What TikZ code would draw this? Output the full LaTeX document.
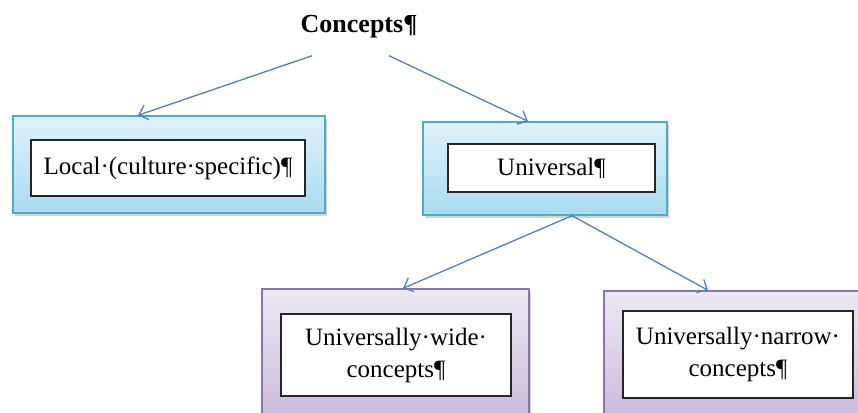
\documentclass[tikz,border=0pt]{standalone}
\usepackage{fontspec}
\setmainfont{Liberation Serif}
\usetikzlibrary{arrows.meta,shadows,calc}
\definecolor{arrowblue}{RGB}{79,129,189}
\definecolor{bluetop}{RGB}{224,242,251}
\definecolor{bluebot}{RGB}{168,219,240}
\definecolor{blueedge}{RGB}{75,172,198}
\definecolor{purptop}{RGB}{238,233,244}
\definecolor{purpbot}{RGB}{200,184,218}
\definecolor{purpedge}{RGB}{140,115,175}
\tikzset{
  outerblue/.style={draw=blueedge, line width=1.4pt, top color=bluetop, bottom color=bluebot,
    drop shadow={shadow xshift=2pt, shadow yshift=-3pt, opacity=0.35}, inner sep=0pt},
  outerpurple/.style={draw=purpedge, line width=1.4pt, top color=purptop, bottom color=purpbot,
    drop shadow={shadow xshift=2pt, shadow yshift=-3pt, opacity=0.35}, inner sep=0pt},
  innerbox/.style={draw=black!85, line width=1.5pt, fill=white, align=center, inner sep=0pt,
    font=\fontsize{25}{32}\selectfont},
  arr/.style={draw=arrowblue, line width=1.3pt, -{Straight Barb[length=8pt,width=15pt]}}
}
\begin{document}
\begin{tikzpicture}[x=1pt,y=-1pt]
\useasboundingbox (0,0) rectangle (858,412);
\clip (0,0) rectangle (858,412);
\node[font=\bfseries\fontsize{26}{30}\selectfont, anchor=base, inner sep=0pt] (concepts) at (359,33) {Concepts¶};

\node[outerblue, minimum width=312pt, minimum height=97pt] (local) at (169,164.5) {};
\node[innerbox, minimum width=274pt, minimum height=56pt] (localin) at (168,168) {Local·(culture·specific)¶};

\node[outerblue, minimum width=244pt, minimum height=93pt] (univ) at (545,168.5) {};
\node[innerbox, minimum width=207pt, minimum height=48pt] (univin) at (551.5,168) {Universal¶};

\node[outerpurple, minimum width=267pt, minimum height=136pt] (wide) at (395.5,357) {};
\node[innerbox, minimum width=230pt, minimum height=82pt] (widein) at (396,355) {Universally·wide·\\concepts¶};

\node[outerpurple, minimum width=266pt, minimum height=134pt] (narrow) at (737,358) {};
\node[innerbox, minimum width=230pt, minimum height=87pt] (narrowin) at (738,354.5) {Universally·narrow·\\concepts¶};

\draw[arr] ([shift={(-47pt,-17pt)}]concepts.south) -- ([xshift=-31pt]local.north);
\draw[arr] ([shift={(30pt,-17pt)}]concepts.south) -- ([xshift=-17pt]univ.north);
\draw[arr] ([xshift=27pt]univ.south) -- ([xshift=7.5pt]wide.north);
\draw[arr] ([xshift=27pt]univ.south) -- ([xshift=-29pt]narrow.north);
\end{tikzpicture}
\end{document}
